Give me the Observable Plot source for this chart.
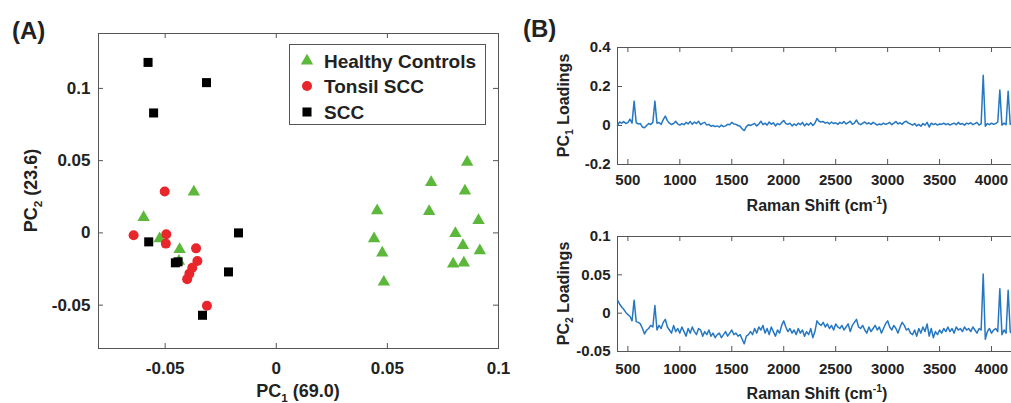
<!DOCTYPE html>
<html><head><meta charset="utf-8">
<script src="https://cdn.jsdelivr.net/npm/d3@7"></script>
<script src="https://cdn.jsdelivr.net/npm/@observablehq/plot@0.6"></script>
<style>
html,body{margin:0;padding:0;overflow:hidden;background:#fff;}
#wrap{position:relative;width:1011px;height:403px;overflow:hidden;background:#fff;}
#wrap svg{position:absolute;max-width:none;}
</style></head><body><div id="wrap"></div>
<script>
// ---------- Panel A data (PCA scores) ----------
const groups = ["Healthy Controls", "Tonsil SCC", "SCC"];
const healthyX = [-0.0597, -0.0371, -0.0525, -0.0435, -0.0438, 0.0859, 0.0697, 0.0849, 0.0454, 0.0688, 0.0910, 0.0440, 0.0806, 0.0477, 0.0840, 0.0916, 0.0796, 0.0844, 0.0484];
const healthyY = [0.0108, 0.0283, -0.0040, -0.0114, -0.0195, 0.0490, 0.0350, 0.0290, 0.0154, 0.0149, 0.0087, -0.0040, -0.0003, -0.0139, -0.0086, -0.0123, -0.0215, -0.0208, -0.0340];
const tonsilX = [-0.0502, -0.0642, -0.0495, -0.0497, -0.0361, -0.0355, -0.0378, -0.0391, -0.0401, -0.0312];
const tonsilY = [0.0287, -0.0016, -0.0009, -0.0074, -0.0107, -0.0195, -0.0241, -0.0282, -0.0320, -0.0504];
const sccX = [-0.0577, -0.0314, -0.0552, -0.0574, -0.0170, -0.0454, -0.0442, -0.0215, -0.0332];
const sccY = [0.1180, 0.1040, 0.0830, -0.0062, 0.0000, -0.0207, -0.0200, -0.0270, -0.0570];
const xTicksA = [-0.05, 0, 0.05, 0.1];
const yTicksA = [-0.05, 0, 0.05, 0.1];

// ---------- Panel B data (loadings, Raman shift 400..4200 step 20) ----------
const shiftStart = 400, shiftStep = 20;
const pc1Loadings = [
 0.000,0.018,0.012,0.020,0.010,0.015,0.032,0.012,0.125,0.014,
 0.008,0.010,-0.008,-0.012,0.000,0.010,0.005,0.016,0.125,0.012,
 0.015,0.005,0.030,0.048,0.025,0.012,0.005,0.010,0.022,0.008,
 0.002,0.010,0.004,0.016,0.008,0.020,0.006,0.018,0.010,0.022,
 0.004,0.012,0.016,0.002,0.006,-0.004,0.000,-0.006,-0.002,-0.008,
 0.002,-0.006,-0.002,0.006,0.004,0.016,0.008,0.006,0.000,-0.004,
 -0.018,-0.026,-0.006,0.004,0.000,0.006,0.010,-0.002,0.008,0.022,
 0.004,0.012,0.002,0.018,0.006,0.014,-0.002,0.010,0.004,0.016,
 0.026,0.010,0.006,0.012,-0.002,0.008,0.000,0.012,0.004,0.016,
 -0.002,0.010,0.002,0.014,0.000,0.012,0.036,0.022,0.018,0.020,
 0.012,0.016,0.008,0.018,0.010,0.014,0.006,0.016,0.010,0.020,
 0.008,0.014,0.022,0.006,0.012,0.028,0.010,0.004,0.012,0.018,
 0.008,0.014,0.006,0.016,0.010,0.002,0.008,0.004,0.012,0.006,
 0.010,0.016,0.004,0.012,0.020,0.008,0.014,0.006,0.018,0.022,
 0.012,0.008,0.002,0.010,-0.002,0.006,-0.004,0.010,0.002,0.016,
 -0.008,0.012,0.004,0.010,0.002,0.008,0.006,0.012,0.004,0.010,
 0.002,0.008,0.012,0.004,0.016,0.006,0.010,0.002,0.012,0.008,
 0.014,0.004,0.010,0.016,0.002,0.008,0.258,-0.004,0.010,0.004,
 0.012,0.006,0.010,0.018,0.182,0.002,0.012,0.004,0.176,0.006,
 0.010];
const pc2Loadings = [
 0.017,0.012,0.008,0.005,0.001,-0.002,-0.004,-0.010,0.017,-0.011,
 -0.012,-0.014,-0.020,-0.027,-0.022,-0.020,-0.016,-0.018,0.010,-0.022,
 -0.016,-0.020,-0.012,-0.008,-0.018,-0.022,-0.026,-0.016,-0.024,-0.020,
 -0.026,-0.018,-0.024,-0.030,-0.020,-0.026,-0.018,-0.024,-0.028,-0.020,
 -0.022,-0.030,-0.024,-0.028,-0.022,-0.030,-0.026,-0.032,-0.028,-0.026,
 -0.032,-0.028,-0.024,-0.030,-0.026,-0.022,-0.028,-0.026,-0.030,-0.028,
 -0.034,-0.040,-0.030,-0.028,-0.024,-0.028,-0.020,-0.026,-0.018,-0.022,
 -0.016,-0.026,-0.020,-0.028,-0.018,-0.024,-0.030,-0.022,-0.026,-0.016,
 -0.010,-0.018,-0.024,-0.020,-0.026,-0.022,-0.028,-0.020,-0.026,-0.022,
 -0.030,-0.024,-0.028,-0.020,-0.032,-0.024,-0.010,-0.014,-0.016,-0.012,
 -0.018,-0.014,-0.020,-0.016,-0.022,-0.014,-0.018,-0.020,-0.016,-0.022,
 -0.018,-0.014,-0.024,-0.016,-0.012,-0.008,-0.018,-0.020,-0.016,-0.022,
 -0.026,-0.018,-0.024,-0.020,-0.016,-0.022,-0.018,-0.026,-0.020,-0.014,
 -0.010,-0.018,-0.022,-0.016,-0.020,-0.026,-0.018,-0.012,-0.016,-0.022,
 -0.020,-0.026,-0.028,-0.022,-0.030,-0.020,-0.026,-0.018,-0.024,-0.014,
 -0.030,-0.020,-0.032,-0.024,-0.028,-0.022,-0.026,-0.020,-0.024,-0.018,
 -0.024,-0.020,-0.026,-0.018,-0.022,-0.020,-0.024,-0.018,-0.022,-0.020,
 -0.024,-0.018,-0.022,-0.026,-0.020,-0.022,0.051,-0.034,-0.024,-0.020,
 -0.026,-0.022,-0.020,-0.024,0.032,-0.028,-0.022,-0.026,0.030,-0.024,
 -0.028];
const xTicksB = [500, 1000, 1500, 2000, 2500, 3000, 3500, 4000];
const yTicksB1 = [-0.2, 0, 0.2, 0.4];
const yTicksB2 = [-0.05, 0, 0.05, 0.1];

// ---------- styling ----------
const FONT = '"Liberation Sans", Arial, Helvetica, sans-serif';
const TXT = "#222", AX = "#555";
const GREEN = "#5cb83a", RED = "#e8262b", BLACK = "#000000", BLUE = "#2577c2";
const fmt = d => String(d);
const wrap = document.getElementById("wrap");

function place(svg, left, top) {
  svg.style.left = left + "px"; svg.style.top = top + "px";
  wrap.appendChild(svg);
}
function richText(svg, x, y, parts, size, rotate = 0, anchor = "middle") {
  const t = d3.select(svg).append("text")
    .attr("transform", `translate(${x},${y}) rotate(${rotate})`)
    .attr("text-anchor", anchor).attr("font-size", size).attr("font-weight", "bold")
    .attr("fill", TXT).attr("font-family", FONT);
  let shift = 0;
  for (const [s, kind] of parts) {
    const target = kind === "sub" ? size * 0.28 : kind === "sup" ? -size * 0.42 : 0;
    t.append("tspan").attr("dy", target - shift).attr("font-size", kind ? size * 0.65 : size).text(s);
    shift = target;
  }
  return t;
}

// ---------- Panel A ----------
{
  const W = 520, H = 403, ml = 98, mr = 22, mt = 33, mb = 55;
  const fw = W - ml - mr, fh = H - mt - mb;
  const healthy = healthyX.map((x, i) => ({x, y: healthyY[i]}));
  const tonsil = tonsilX.map((x, i) => ({x, y: tonsilY[i]}));
  const scc = sccX.map((x, i) => ({x, y: sccY[i]}));
  const svg = Plot.plot({
    width: W, height: H, marginLeft: ml, marginRight: mr, marginTop: mt, marginBottom: mb,
    style: {fontFamily: FONT, fontSize: "17px", fontWeight: "bold", color: TXT, background: "transparent", overflow: "visible"},
    x: {domain: [-0.08, 0.1], ticks: xTicksA, tickFormat: fmt, tickSize: 0, tickPadding: 13, label: null},
    y: {domain: [-0.08, 0.138], ticks: yTicksA, tickFormat: fmt, tickSize: 0, tickPadding: 8, label: null},
    marks: [
      Plot.frame({stroke: AX}),
      Plot.ruleX(xTicksA, {x: d => d, insetTop: fh - 5, stroke: AX}),
      Plot.ruleX(xTicksA, {x: d => d, insetBottom: fh - 5, stroke: AX}),
      Plot.ruleY(yTicksA, {y: d => d, insetRight: fw - 5, stroke: AX}),
      Plot.ruleY(yTicksA, {y: d => d, insetLeft: fw - 5, stroke: AX}),
      Plot.dot(healthy, {x: "x", y: "y", symbol: "triangle", r: 4.6, fill: GREEN}),
      Plot.dot(tonsil, {x: "x", y: "y", symbol: "circle", r: 5, fill: RED}),
      Plot.dot(scc, {x: "x", y: "y", symbol: "square", r: 5.1, fill: BLACK})
    ]
  });
  place(svg, 0, 0);
  const s = d3.select(svg);
  // legend
  s.append("rect").attr("x", 289.5).attr("y", 44.5).attr("width", 196).attr("height", 80)
    .attr("fill", "white").attr("stroke", AX);
  const leg = [
    {name: groups[0], sym: d3.symbolTriangle, r: 4.6, color: GREEN, y: 61},
    {name: groups[1], sym: d3.symbolCircle, r: 5, color: RED, y: 86},
    {name: groups[2], sym: d3.symbolSquare, r: 5.1, color: BLACK, y: 112}
  ];
  for (const L of leg) {
    s.append("path").attr("d", d3.symbol(L.sym, Math.PI * L.r * L.r)())
      .attr("transform", `translate(307,${L.y})`).attr("fill", L.color);
    s.append("text").attr("x", 324).attr("y", L.y + 7).attr("font-size", 19).attr("font-weight", "bold")
      .attr("text-anchor", "start").attr("font-family", FONT).attr("fill", TXT).text(L.name);
  }
  richText(svg, 12, 39, [["(A)"]], 24, 0, "start");
  richText(svg, 298, 397, [["PC"], ["1", "sub"], [" (69.0)"]], 18);
  richText(svg, 37, 190.5, [["PC"], ["2", "sub"], [" (23.6)"]], 18, -90);
}

// ---------- Panel B ----------
function loadingsPlot(values, {top, H, mt, mb, yDomain, yTicks, xPad, sub, labelY}) {
  const W = 510, ml = 97, mr = 13;
  const fw = W - ml - mr, fh = H - mt - mb;
  const data = values.map((v, i) => ({shift: shiftStart + i * shiftStep, v}));
  const svg = Plot.plot({
    width: W, height: H, marginLeft: ml, marginRight: mr, marginTop: mt, marginBottom: mb,
    style: {fontFamily: FONT, fontSize: "15px", fontWeight: "bold", color: TXT, background: "transparent", overflow: "visible"},
    x: {domain: [400, 4250], ticks: xTicksB, tickFormat: fmt, tickSize: 0, tickPadding: xPad, label: null},
    y: {domain: yDomain, ticks: yTicks, tickFormat: fmt, tickSize: 0, tickPadding: 7, label: null},
    marks: [
      Plot.frame({stroke: AX}),
      Plot.ruleX(xTicksB, {x: d => d, insetTop: fh - 5, stroke: AX}),
      Plot.ruleX(xTicksB, {x: d => d, insetBottom: fh - 5, stroke: AX}),
      Plot.ruleY(yTicks, {y: d => d, insetRight: fw - 5, stroke: AX}),
      Plot.line(data, {x: "shift", y: "v", stroke: BLUE, strokeWidth: 1.5})
    ]
  });
  place(svg, 520, top);
  richText(svg, 297, labelY, [["Raman Shift (cm"], ["-1", "sup"], [")"]], 16);
  richText(svg, 49, mt + fh / 2, [["PC"], [sub, "sub"], [" Loadings"]], 16, -90);
  return svg;
}
const topB = loadingsPlot(pc1Loadings, {top: 30, H: 190, mt: 17, mb: 56, yDomain: [-0.2, 0.4], yTicks: yTicksB1, xPad: 10, sub: "1", labelY: 181});
richText(topB, 3, 7, [["(B)"]], 24, 0, "start");
loadingsPlot(pc2Loadings, {top: 220, H: 183, mt: 16, mb: 52, yDomain: [-0.05, 0.1], yTicks: yTicksB2, xPad: 12, sub: "2", labelY: 178.5});
</script></body></html>
